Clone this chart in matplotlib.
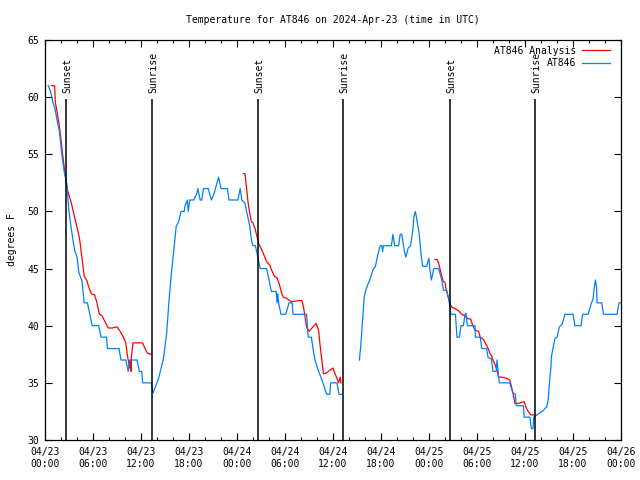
import numpy as np
import matplotlib
matplotlib.use("Agg")
import matplotlib.pyplot as plt
from matplotlib.ticker import MultipleLocator

plt.rcParams['font.family'] = ['DejaVu Sans Mono']
plt.rcParams['font.size'] = 7

# hours since 2024-04-23 00:00 UTC
obs_hours = [0.4, 0.7, 1.0, 1.25, 1.5, 1.8, 2.1, 2.4, 2.7, 3.0, 3.3, 3.7, 4.0, 4.25, 4.6, 4.9, 5.3, 5.6, 5.9,
             6.7, 7.0, 7.7, 7.8, 9.25, 9.5, 10.1, 10.4, 10.6, 11.5, 11.8, 12.1, 12.2, 13.3, 13.5,
             14.2, 14.8, 15.2, 15.5, 15.8, 16.1, 16.4, 16.7, 17.0, 17.4, 17.5, 17.8, 17.9, 18.1, 18.6,
             19.0, 19.1, 19.4, 19.6, 19.8, 20.4, 20.8, 21.1, 21.5, 21.7, 22.0, 22.8, 23.0, 24.1, 24.4,
             24.6, 25.0, 25.2, 25.6, 25.8, 26.0, 26.3, 26.6, 26.9, 27.7, 28.0, 28.3, 28.9, 29.0, 29.1,
             29.2, 29.5, 30.1, 30.5, 30.9, 31.0, 32.7, 32.9, 33.3, 33.5, 33.75, 34.2, 34.6, 35.2, 35.6,
             35.7, 36.5, 36.75, 37.1,
             38.0,
             39.3, 39.5, 39.7, 39.9, 40.1, 40.4, 40.6, 41.0, 41.3, 41.6, 41.9, 42.1, 42.2, 42.3, 43.3,
             43.5, 43.7, 44.2, 44.4, 44.6, 44.9, 45.1, 45.4, 45.7, 46.0, 46.1, 46.3, 46.5, 46.75, 47.0,
             47.2, 47.7, 48.0, 48.1, 48.3, 48.6, 49.2, 49.6, 49.8, 50.2, 50.5, 50.75, 51.3, 51.5, 51.8,
             52.0, 52.3, 52.5, 52.6, 52.8, 53.75, 53.8, 54.4, 54.6, 55.2, 55.4, 55.8, 56.0, 56.4, 56.5,
             56.7, 56.8, 58.1, 58.3, 58.5, 58.8, 58.9, 59.8, 59.9, 60.6, 60.8, 61.0, 61.1, 61.7, 62.3,
             62.7, 62.9, 63.0, 63.1, 63.25, 63.3, 63.5, 63.75, 64.0, 64.3, 64.6, 64.8, 65.0, 66.0,
             66.25, 67.0, 67.2, 67.9, 68.1, 68.3, 68.5, 68.6, 68.8, 68.95, 69.0, 69.6, 69.8, 71.5,
             71.75, 72.0]
obs_temps = [61, 60.5, 59.5, 59, 58, 57, 55, 53.5, 52.5, 50, 48.4, 46.6, 46, 44.6, 44, 42, 42, 41, 40,
             40, 39, 39, 38, 38, 37, 37, 36, 37, 37, 36, 36, 35, 35, 34.1,
             35.4, 37.1, 39.3, 42.2, 44.6, 46.6, 48.7, 49.1, 50, 50, 50.5, 51, 50, 51, 51,
             51.6, 52, 51, 51, 52, 52, 51, 51.5, 52.5, 53, 52, 52, 51, 51, 52,
             51, 50.7, 50, 48.7, 47.5, 47, 47, 46, 45, 45, 44, 43, 43, 42, 42.8,
             42, 41, 41, 42, 42, 41, 41, 39, 39, 38, 37, 36, 35.3, 34, 34,
             35, 35, 34, 34,
             np.nan,
             37, 38.5, 40.5, 42.5, 43.1, 43.7, 44, 44.9, 45.2, 46.2, 47, 47, 46.5, 47, 47,
             48, 47, 47, 48, 48, 46.6, 46, 46.8, 47, 48.5, 49.5, 50, 49.2, 48.2, 46.3,
             45.2, 45.2, 45.9, 45, 44, 45, 45, 44, 43.1, 43.1, 42.2, 41, 41, 39, 39,
             40, 40, 41, 41.1, 40, 40, 39, 39, 38, 38, 37.2, 37.1, 36, 36, 37,
             35.5, 35, 35, 34.5, 34.1, 34, 33, 33, 32, 32, 31, 31, 32, 32.3, 32.6,
             32.9, 33.5, 34.4, 35.4, 36.4, 37.3, 38, 38.9, 39, 39.9, 40.1, 40.5, 41, 41,
             40, 40, 41, 41, 41.5, 42, 42.3, 43, 44, 43.4, 42, 42, 41, 41,
             42, 42]

ana_hours = [0.8, 1.2, 1.3, 1.46, 1.75, 1.96, 2.2, 2.5, 2.8, 3.3, 3.7, 4.0, 4.3, 4.5, 4.7, 4.9, 5.2, 5.5,
             5.8, 6.2, 6.5, 6.8, 7.1, 7.5, 7.9, 8.4, 9.0, 9.4, 9.8, 10.1, 10.3, 10.5, 10.6, 10.7, 10.75,
             10.8, 11.0, 12.2, 12.5, 12.8, 13.25,
             19.0,
             24.8, 25.0, 25.2, 25.4, 25.6, 25.8, 26.0, 26.25, 26.5, 26.75, 27.0, 27.3, 27.7, 28.1, 28.3,
             28.7, 29.0, 29.3, 29.6, 29.8, 30.2, 30.8, 31.7, 32.1, 32.3, 32.5, 32.7, 33.0, 33.5, 33.9,
             34.2, 34.4, 34.6, 34.8, 35.0, 35.4, 36.0, 36.25, 36.5, 36.7, 36.9, 37.0,
             43.0,
             48.75, 49.0, 49.2, 49.4, 49.6, 49.8, 50.0, 50.1, 50.3, 50.5, 50.7, 50.9, 51.25, 51.7, 52.1,
             52.5, 52.9, 53.2, 53.4, 53.75, 54.2, 54.4, 54.8, 55.1, 55.4, 55.6, 55.8, 56.0, 56.25, 56.5,
             56.7, 57.1, 57.7, 58.1, 58.3, 58.5, 58.75, 59.2, 59.9, 60.1, 60.4, 60.75, 61.1]
ana_temps = [61, 61, 59.5, 58.9, 57.7, 56.5, 55, 53.3, 51.9, 50.7, 49.5, 48.6, 47.7, 46.6, 45.5, 44.3, 44, 43.3,
             42.8, 42.7, 42, 41, 40.9, 40.35, 39.8, 39.8, 39.9, 39.5, 39, 38.5, 37.4, 36.6, 36.3, 37, 36,
             37.3, 38.5, 38.5, 38, 37.6, 37.5,
             np.nan,
             53.3, 53.3, 52, 50.7, 49.8, 49.1, 49, 48.5, 47.8, 47.1, 46.8, 46.3, 45.6, 45.3, 44.9,
             44.3, 44.2, 43.6, 42.8, 42.5, 42.4, 42.1, 42.2, 42.2, 41.7, 40.8, 39.9, 39.5, 39.9, 40.2,
             39.6, 38.2, 37, 35.8, 35.8, 36, 36.3, 35.8, 35.4, 35, 35.5, 35,
             np.nan,
             45.8, 45.8, 45.5, 44.9, 44.3, 43.85, 43.8, 43.3, 42.8, 42.25, 41.8, 41.6, 41.5, 41.3, 41,
             40.85, 40.6, 40.6, 40.15, 39.6, 39.5, 39, 38.8, 38.4, 38, 37.6, 37.4, 37, 36.6, 36.1,
             35.5, 35.5, 35.4, 35.25, 34.7, 34.1, 33.2, 33.2, 33.35, 32.9, 32.5, 32.2, 32.2]

sun_hours = [2.67, 13.42, 26.67, 37.3, 50.6, 61.3]
sun_names = ['Sunset', 'Sunrise', 'Sunset', 'Sunrise', 'Sunset', 'Sunrise']

tick_hours = [0, 6, 12, 18, 24, 30, 36, 42, 48, 54, 60, 66, 72]
tick_labels = ['04/23\n00:00', '04/23\n06:00', '04/23\n12:00', '04/23\n18:00', '04/24\n00:00',
               '04/24\n06:00', '04/24\n12:00', '04/24\n18:00', '04/25\n00:00', '04/25\n06:00',
               '04/25\n12:00', '04/25\n18:00', '04/26\n00:00']

fig = plt.figure(figsize=(6.4, 4.8), dpi=100)
ax = fig.add_axes([45 / 640, 40 / 480, 576 / 640, 400 / 480])

ax.plot(ana_hours, ana_temps, color='#ff0000', lw=0.9, label='AT846 Analysis')
ax.plot(obs_hours, obs_temps, color='#0080ff', lw=0.9, label='AT846')

ax.vlines(sun_hours, 30, 59.8, colors='black', lw=1.1)
for h, name in zip(sun_hours, sun_names):
    ax.text(h + 0.15, 60.4, name, rotation=90, ha='center', va='bottom')

ax.set_xlim(0, 72)
ax.set_ylim(30, 65)
ax.set_xticks(tick_hours)
ax.set_xticklabels(tick_labels)
ax.xaxis.set_minor_locator(MultipleLocator(2))
ax.set_yticks(range(30, 66, 5))
ax.tick_params(which='major', direction='in', top=True, right=True, length=5, width=0.8, pad=5)
ax.tick_params(which='minor', direction='in', top=True, right=True, length=2.5, width=0.8)
ax.tick_params(axis='y', pad=4)
for s in ax.spines.values():
    s.set_linewidth(0.9)

ax.set_ylabel('degrees F', labelpad=8)
fig.text(333 / 640, 1 - 20 / 480, 'Temperature for AT846 on 2024-Apr-23 (time in UTC)',
         ha='center', va='center')

ax.legend(loc='upper right', bbox_to_anchor=(1 - 5 / 576, 1.0), frameon=False, markerfirst=False,
          handlelength=2.9, borderaxespad=0.2, labelspacing=0.25, handletextpad=0.6)

fig.savefig('out.png', dpi=100)
